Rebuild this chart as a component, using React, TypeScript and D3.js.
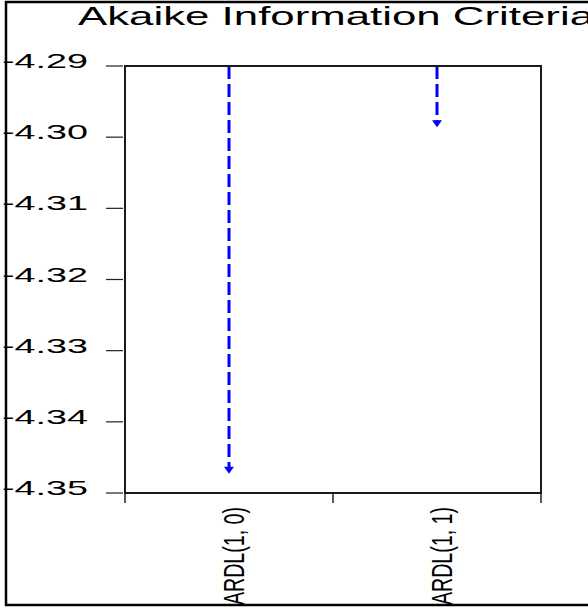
import { useRef, useEffect } from "react";
import * as d3 from "d3";

const categories = ["ARDL(1, 0)", "ARDL(1, 1)"];
const aicValues = [-4.3473, -4.2986];
const yTicks = [-4.29, -4.3, -4.31, -4.32, -4.33, -4.34, -4.35];
const yTickLabels = ["-4.29", "-4.30", "-4.31", "-4.32", "-4.33", "-4.34", "-4.35"];
const chartTitle = "Akaike Information Criteria";

export default function App() {
  const ref = useRef<HTMLDivElement>(null);

  useEffect(() => {
    if (!ref.current) return;
    while (ref.current.firstChild) ref.current.removeChild(ref.current.firstChild);

    const width = 588;
    const height = 612;
    const left = 125, right = 541, top = 66, bottom = 493;

    const svg = d3
      .create("svg")
      .attr("width", width)
      .attr("height", height)
      .attr("viewBox", [0, 0, width, height])
      .attr("style", "position:absolute;left:0;top:0;background:#fff")
      .attr("font-family", "'Liberation Sans', Arial, sans-serif");

    const x = d3.scaleBand<string>(categories, [left, right]).padding(0);
    const y = d3.scaleLinear([-4.35, -4.29], [bottom, top]);

    // outer frame (right side falls off the picture)
    svg
      .append("rect")
      .attr("x", 6)
      .attr("y", 2)
      .attr("width", 620)
      .attr("height", 603)
      .attr("fill", "none")
      .attr("stroke", "#000")
      .attr("stroke-width", 2.5);

    // title
    svg
      .append("text")
      .attr("x", 78)
      .attr("y", 25)
      .attr("font-size", 25)
      .attr("textLength", 516)
      .attr("lengthAdjust", "spacingAndGlyphs")
      .attr("fill", "#000")
      .text(chartTitle);

    // y ticks + labels
    const yg = svg.append("g");
    yg.selectAll("line")
      .data(yTicks)
      .join("line")
      .attr("x1", 106)
      .attr("x2", 123)
      .attr("y1", (d) => y(d))
      .attr("y2", (d) => y(d))
      .attr("stroke", "#222")
      .attr("stroke-width", 1.2);
    yg.selectAll("text")
      .data(yTicks)
      .join("text")
      .attr("x", 2)
      .attr("y", (d) => y(d) + 2)
      .attr("font-size", 21)
      .attr("textLength", 86)
      .attr("lengthAdjust", "spacingAndGlyphs")
      .attr("fill", "#000")
      .text((d, i) => yTickLabels[i]);

    // x ticks at band edges
    const edges = [...categories.map((c) => x(c)!), right];
    svg
      .append("g")
      .selectAll("line")
      .data(edges)
      .join("line")
      .attr("x1", (d) => d)
      .attr("x2", (d) => d)
      .attr("y1", bottom)
      .attr("y2", bottom + 10)
      .attr("stroke", "#222")
      .attr("stroke-width", 1.5);

    // x labels, rotated
    svg
      .append("g")
      .selectAll("text")
      .data(categories)
      .join("text")
      .attr("transform", (d) => `translate(${x(d)! + x.bandwidth() / 2 + 15},${507}) rotate(-90)`)
      .attr("text-anchor", "end")
      .attr("font-size", 30)
      .attr("textLength", 98)
      .attr("lengthAdjust", "spacingAndGlyphs")
      .attr("fill", "#000")
      .text((d) => d);

    // dashed arrows from the top of the frame down to each value
    const arrows = svg.append("g");
    categories.forEach((c, i) => {
      const cx = x(c)! + x.bandwidth() / 2;
      const vy = y(aicValues[i]);
      arrows
        .append("line")
        .attr("x1", cx)
        .attr("x2", cx)
        .attr("y1", top)
        .attr("y2", vy - 6)
        .attr("stroke", "#0000ff")
        .attr("stroke-width", 3)
        .attr("stroke-dasharray", "13,5");
      arrows
        .append("path")
        .attr("d", `M${cx},${vy}L${cx - 5},${vy - 7}L${cx + 5},${vy - 7}Z`)
        .attr("fill", "#0000ff");
    });

    // plot frame
    svg
      .append("rect")
      .attr("x", left)
      .attr("y", top)
      .attr("width", right - left)
      .attr("height", bottom - top)
      .attr("fill", "none")
      .attr("stroke", "#1a1a1a")
      .attr("stroke-width", 2);

    ref.current.appendChild(svg.node()!);
  }, []);

  return <div ref={ref} />;
}
